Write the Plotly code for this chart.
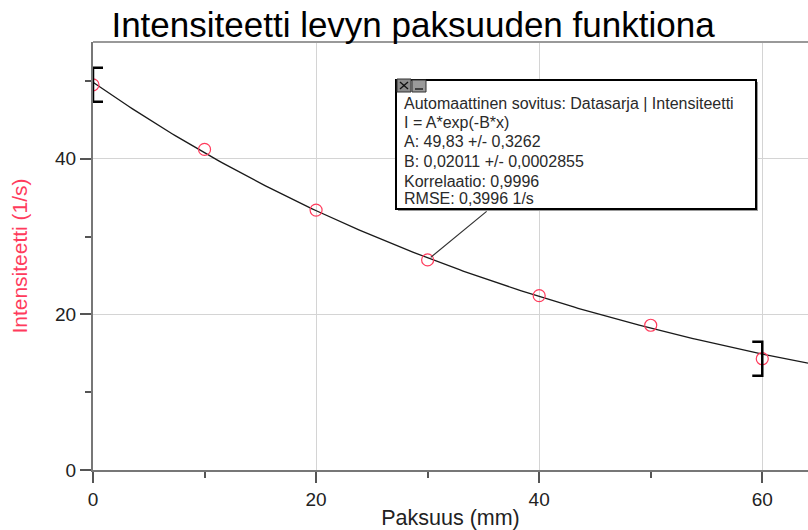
import numpy as np
import plotly.graph_objects as go

# ---- data ----
paksuus = [0, 10, 20, 30, 40, 50, 60]                        # mm
intensiteetti = [49.5, 41.2, 33.4, 27.0, 22.4, 18.6, 14.3]  # 1/s
fit_A = 49.83
fit_B = 0.02011
x_range = [0, 64.1]
y_range = [0, 55]
x_ticks = [0, 20, 40, 60]
y_ticks = [0, 20, 40]
fit_text_lines = [
    "Automaattinen sovitus: Datasarja | Intensiteetti",
    "I = A*exp(-B*x)",
    "A: 49,83 +/- 0,3262",
    "B: 0,02011 +/- 0,0002855",
    "Korrelaatio: 0,9996",
    "RMSE: 0,3996 1/s",
]

W, H = 808, 530
ML, MR, MT, MB = 93, 0, 42, 60
PW, PH = W - ML - MR, H - MT - MB
PLOT_L = ML
PLOT_B = H - MB

def px_x(p):
    return (p - PLOT_L) / PW

def px_y(p):
    return (PLOT_B - p) / PH

FONT = "Liberation Sans, Arial, sans-serif"

xf = np.linspace(x_range[0], x_range[1], 200)
yf = fit_A * np.exp(-fit_B * xf)

fig = go.Figure()
fig.add_trace(go.Scatter(x=xf, y=yf, mode="lines",
                         line=dict(color="#1a1a1a", width=1.3),
                         hoverinfo="skip", showlegend=False))
fig.add_trace(go.Scatter(x=paksuus, y=intensiteetti, mode="markers",
                         marker=dict(symbol="circle-open", size=12,
                                     color="#ff3b5c", line=dict(width=1.2)),
                         showlegend=False))

# fit range brackets
bw, bh = 10, 17
fig.add_shape(type="path", xref="x", yref="y", xsizemode="pixel", ysizemode="pixel",
              xanchor=paksuus[0], yanchor=intensiteetti[0],
              path=f"M {bw},{bh} L 0,{bh} L 0,{-bh} L {bw},{-bh}",
              line=dict(color="black", width=2.5))
fig.add_shape(type="path", xref="x", yref="y", xsizemode="pixel", ysizemode="pixel",
              xanchor=paksuus[-1], yanchor=intensiteetti[-1],
              path=f"M {-bw},{bh} L 0,{bh} L 0,{-bh} L {-bw},{-bh}",
              line=dict(color="black", width=2.5))

# top frame line
fig.add_shape(type="line", xref="paper", yref="paper", x0=0, x1=1, y0=1, y1=1,
              line=dict(color="#999999", width=2))

# leader line from the fit box to the point at x=30
fig.add_annotation(x=paksuus[3], y=intensiteetti[3], xref="x", yref="y",
                   text=" ", showarrow=True, arrowhead=0, arrowwidth=1.2,
                   arrowcolor="#333333", ax=62, ay=-51, standoff=4)

# fit box (shadow, frame)
BX0, BX1, BY0, BY1 = 396, 756, 80, 209
fig.add_shape(type="rect", xref="paper", yref="paper",
              x0=px_x(BX0 + 2), x1=px_x(BX1 + 2), y0=px_y(BY1 + 2), y1=px_y(BY0 + 2),
              fillcolor="#999999", line=dict(width=0))
fig.add_shape(type="rect", xref="paper", yref="paper",
              x0=px_x(BX0), x1=px_x(BX1), y0=px_y(BY1), y1=px_y(BY0),
              fillcolor="white", line=dict(color="black", width=2))

# header icons of the box
fig.add_shape(type="rect", xref="paper", yref="paper",
              x0=px_x(397), x1=px_x(411), y0=px_y(92), y1=px_y(79),
              fillcolor="#8c8c8c", line=dict(color="#333333", width=1))
fig.add_shape(type="rect", xref="paper", yref="paper",
              x0=px_x(412), x1=px_x(426), y0=px_y(92), y1=px_y(80),
              fillcolor="#9a9a9a", line=dict(color="#333333", width=1))
for a0, b0, a1, b1 in [(400, 82, 408, 89), (400, 89, 408, 82), (415, 89, 423, 89)]:
    fig.add_shape(type="line", xref="paper", yref="paper",
                  x0=px_x(a0), x1=px_x(a1), y0=px_y(b0), y1=px_y(b1),
                  line=dict(color="#111111", width=1.3))

# fit box text lines
line_y = [104, 122, 141.5, 161.5, 181, 199]
for txt, ly in zip(fit_text_lines, line_y):
    fig.add_annotation(xref="paper", yref="paper", x=px_x(402), y=px_y(ly),
                       xanchor="left", yanchor="middle", text=txt, showarrow=False,
                       font=dict(family=FONT, size=16, color="#2a2a2a"))

axis_common = dict(showline=True, linecolor="#777777", linewidth=2,
                   ticks="outside", ticklen=11, tickwidth=1.5, tickcolor="#555555",
                   gridcolor="#d4d4d4", gridwidth=1, zeroline=False,
                   tickfont=dict(family=FONT, size=19, color="#222222"),
                   minor=dict(dtick=10, ticklen=6, tickwidth=1.5, tickcolor="#555555",
                              ticks="outside", showgrid=False))

fig.update_xaxes(range=x_range, tickvals=x_ticks,
                 title=dict(text="Paksuus (mm)", standoff=3,
                            font=dict(family=FONT, size=21.5, color="#222222")),
                 **axis_common)
fig.update_yaxes(range=y_range, tickvals=y_ticks,
                 title=dict(text="Intensiteetti (1/s)", standoff=22,
                            font=dict(family=FONT, size=21, color="#ff3b5c")),
                 **axis_common)

fig.update_layout(
    width=W, height=H,
    margin=dict(l=ML, r=MR, t=MT, b=MB, autoexpand=False),
    paper_bgcolor="white", plot_bgcolor="white",
    title=dict(text="Intensiteetti levyn paksuuden funktiona",
               x=413 / W, xref="container", xanchor="center",
               y=1 - 25 / H, yref="container", yanchor="middle",
               font=dict(family=FONT, size=35, color="black")),
)

fig.write_html("out.html",
               config={"displayModeBar": False},
               post_script="document.body.style.margin='0px';"
                           "document.body.style.overflow='hidden';")
